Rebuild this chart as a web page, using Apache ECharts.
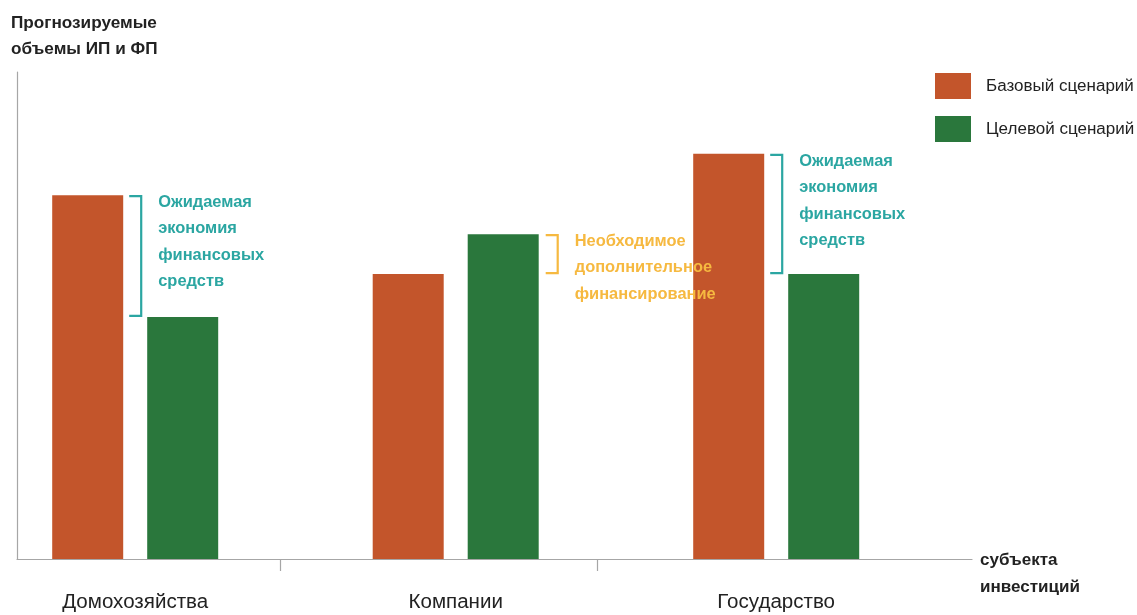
<!DOCTYPE html>
<html>
<head>
<meta charset="utf-8">
<script src="https://cdn.jsdelivr.net/npm/echarts@6/dist/echarts.min.js"></script>
<style>
html,body{margin:0;padding:0;background:#fff;}
#chart{width:1137px;height:615px;}
</style>
</head>
<body>
<div id="chart"></div>
<script>
// ---- data ----
const categories = ['Домохозяйства', 'Компании', 'Государство'];
const seriesNames = ['Базовый сценарий', 'Целевой сценарий'];
const baseValues = [74.7, 58.5, 83.2];
const targetValues = [49.7, 66.7, 58.5];
const savingText = 'Ожидаемая\nэкономия\nфинансовых\nсредств';
const extraText = 'Необходимое\nдополнительное\nфинансирование';
const yAxisTitle = 'Прогнозируемые\nобъемы ИП и ФП';
const xAxisTitle = 'субъекта\nинвестиций';

// ---- font selection (narrowest installed family with proper regular/bold faces) ----
const mctx = document.createElement('canvas').getContext('2d');
function textW(font, s) { mctx.font = font; return mctx.measureText(s).width; }
function installed(f) {
  const t = 'Домохозяйства mmmwwwiiilll';
  return ['monospace', 'serif'].some(fb => Math.abs(textW(`20px "${f}", ${fb}`, t) - textW(`20px ${fb}`, t)) > 0.01);
}
const candidates = ['Liberation Sans Narrow', 'DejaVu Sans Condensed', 'Roboto Condensed', 'Noto Sans Condensed',
  'Roboto', 'Lato', 'Liberation Sans', 'Inter', 'Noto Sans', 'Open Sans', 'DejaVu Sans'];
let best = null, bestW = Infinity;
candidates.forEach(f => {
  if (!installed(f)) return;
  const s = 'Домохозяйства Базовый';
  const wn = textW(`normal 20px "${f}", sans-serif`, s);
  const wb = textW(`bold 20px "${f}", sans-serif`, s);
  if (!(wb > wn * 1.02)) return;
  if (wn < bestW) { bestW = wn; best = f; }
});
const FONT = (best ? `"${best}", ` : '') + 'sans-serif';
function fitSize(str, target, weight) {
  return +(20 * target / textW(`${weight} 20px ${FONT}`, str)).toFixed(2);
}
const SZ_CAT = fitSize('Домохозяйства', 146, 'normal');
const SZ_LEG = fitSize('Базовый сценарий', 148, 'normal');
const SZ_ANN = fitSize('финансовых', 106, 'bold');
const SZ_YT = fitSize('Прогнозируемые', 146, 'bold');
const SZ_XT = fitSize('инвестиций', 100, 'bold');

// ---- style ----
const ORANGE = '#c3552b';
const GREEN = '#2a773c';
const TEAL = '#2ba6a2';
const AMBER = '#f6b940';
const AXIS = '#a6a6a6';
const BAR_W = 71;
const BAR_GAP = 24;

const chart = echarts.init(document.getElementById('chart'), null, {renderer: 'canvas'});

const option = {
  animation: false,
  backgroundColor: '#fff',
  grid: {left: 17, right: 165, top: 72, bottom: 56, containLabel: false},
  legend: {
    data: seriesNames,
    orient: 'vertical',
    left: 930,
    top: 68,
    itemWidth: 36,
    itemHeight: 26,
    itemGap: 17,
    icon: 'rect',
    textStyle: {fontFamily: FONT, fontSize: SZ_LEG, fontWeight: 'normal', color: '#222', padding: [0, 0, 0, 10]}
  },
  xAxis: {
    type: 'value',
    min: -0.3688,
    max: 2.6109,
    splitLine: {show: false},
    axisLine: {show: true, onZero: false, lineStyle: {color: AXIS, width: 1.2}},
    axisTick: {show: true, length: 12, lineStyle: {color: AXIS, width: 1.2}, customValues: [0.4518, 1.4409]},
    axisLabel: {
      show: true,
      customValues: [0, 1, 2],
      formatter: v => categories[Math.round(v)] || '',
      margin: 32,
      fontFamily: FONT,
      fontSize: SZ_CAT,
      fontWeight: 'normal',
      lineHeight: 22,
      color: '#222'
    },
    name: xAxisTitle,
    nameLocation: 'end',
    nameGap: 8,
    nameTextStyle: {
      fontFamily: FONT, fontSize: SZ_XT, fontWeight: 'bold', color: '#222',
      align: 'left', verticalAlign: 'top', lineHeight: 27, padding: [-12, 0, 0, 0]
    }
  },
  yAxis: {
    type: 'value',
    min: 0,
    max: 100,
    splitLine: {show: false},
    axisLine: {show: true, onZero: false, lineStyle: {color: AXIS, width: 1.2}},
    axisTick: {show: false},
    axisLabel: {show: false},
    name: yAxisTitle,
    nameLocation: 'end',
    nameGap: 10,
    nameTextStyle: {
      fontFamily: FONT, fontSize: SZ_YT, fontWeight: 'bold', color: '#222',
      align: 'left', verticalAlign: 'bottom', lineHeight: 26, padding: [0, 0, 0, -6]
    }
  },
  series: [
    {
      name: seriesNames[0],
      type: 'bar',
      data: baseValues.map((v, i) => [i, v]),
      barWidth: BAR_W,
      barGap: (BAR_GAP / BAR_W * 100).toFixed(1) + '%',
      itemStyle: {color: ORANGE}
    },
    {
      name: seriesNames[1],
      type: 'bar',
      data: targetValues.map((v, i) => [i, v]),
      barWidth: BAR_W,
      barGap: (BAR_GAP / BAR_W * 100).toFixed(1) + '%',
      itemStyle: {color: GREEN}
    },
    {
      name: 'annotations',
      type: 'custom',
      z: 5,
      encode: {x: 0, y: [1, 2]},
      data: categories.map((c, i) => [i, baseValues[i], targetValues[i]]),
      renderItem: function (params, api) {
        const i = api.value(0), a = api.value(1), b = api.value(2);
        const cx = api.coord([i, 0])[0];
        const yTop = api.coord([i, Math.max(a, b)])[1];
        const yBot = api.coord([i, Math.min(a, b)])[1];
        const saving = a > b;
        const color = saving ? TEAL : AMBER;
        const x0 = saving ? cx - 6 : cx + BAR_GAP / 2 + BAR_W + 7;
        const x1 = x0 + 12;
        const tx = x1 + 17;
        return {
          type: 'group',
          children: [
            {
              type: 'polyline',
              shape: {points: [[x0, yTop + 1], [x1, yTop + 1], [x1, yBot - 1], [x0, yBot - 1]]},
              style: {stroke: color, lineWidth: 2.2, fill: null}
            },
            {
              type: 'text',
              x: tx,
              y: yTop - 6,
              style: {
                text: saving ? savingText : extraText,
                fill: color,
                font: 'bold ' + SZ_ANN + 'px ' + FONT,
                lineHeight: 26.5,
                align: 'left',
                verticalAlign: 'top'
              }
            }
          ]
        };
      }
    }
  ]
};
chart.setOption(option);
</script>
</body>
</html>
